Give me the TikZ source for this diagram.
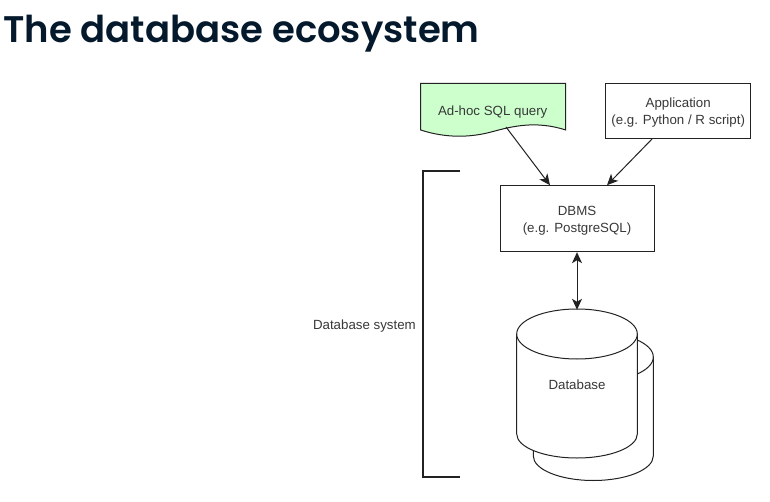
\documentclass[tikz,border=0pt]{standalone}
\usepackage{fontspec}
\setmainfont{Liberation Sans}
\newfontfamily\titlefont{Poppins SemiBold}
\usetikzlibrary{arrows.meta}
\definecolor{titleink}{HTML}{05192D}
\definecolor{queryfill}{HTML}{CCFFCC}
\definecolor{lineink}{HTML}{222222}

\begin{document}
\begin{tikzpicture}[
    x=1pt, y=-1pt,
    box/.style={draw=lineink, fill=white, line width=1pt, align=center, inner sep=0pt,
        text height=31pt, font=\fontsize{13.3}{17}\selectfont, text=lineink!90},
    plain/.style={inner sep=0pt, align=center, font=\fontsize{13.3}{17}\selectfont, text=lineink!90},
    link/.style={draw=lineink, line width=1pt, -{Stealth[length=11pt,width=10pt,inset=3pt]}},
    twoway/.style={draw=lineink, line width=1pt, {Stealth[length=11pt,width=10pt,inset=3pt]}-{Stealth[length=11pt,width=10pt,inset=3pt]}},
    cyl/.style={draw=lineink, fill=white, line width=1pt}
]
    \useasboundingbox (0,0) rectangle (770,502);
    \fill[white] (0,0) rectangle (770,502);
    \node[anchor=base west, inner sep=0pt, text=titleink, font=\titlefont\fontsize{37}{40}\selectfont] (title) at (3,43) {The database ecosystem};

    % wavy sheet for the query
    \draw[draw=lineink, fill=queryfill, line width=1pt] (420.7,83.3) -- (565.7,83.3) -- (565.7,130)
        .. controls (535,120) and (510,127) .. (493,131.5)
        .. controls (470,138) and (445,138) .. (420.7,130) -- cycle;
    \node[plain, minimum width=145pt, minimum height=46pt] (query) at (492.7,112) {Ad-hoc SQL query};
    \coordinate (querytail) at (506,127);

    \node[box, minimum width=145pt, minimum height=55pt] (app) at (678.2,110.8) {Application\\(e.g. Python / R script)};
    \node[box, minimum width=154pt, minimum height=66pt] (dbms) at (577,218.7) {DBMS\\(e.g. PostgreSQL)};

    % back cylinder, then front one
    \draw[cyl] (533.3,357) -- (533.3,456) arc[start angle=180, end angle=0, x radius=60, y radius=24.5]
        -- (653.3,357);
    \draw[cyl] (593.3,357) ellipse[x radius=60, y radius=25];
    \draw[cyl] (516.7,334) -- (516.7,434) arc[start angle=180, end angle=0, x radius=60.3, y radius=24]
        -- (637.3,334);
    \draw[cyl] (577,334) ellipse[x radius=60.3, y radius=25];
    \node[plain, minimum width=120pt, minimum height=149pt] (db) at (577,384.5) {Database};

    \draw[link] (querytail) -- ([xshift=-27pt]dbms.north);
    \draw[link] ([xshift=-26pt]app.south) -- ([xshift=30pt]dbms.north);
    \draw[twoway] (dbms.south) -- (db.north);

    % bracket
    \coordinate (bracktop) at (460,170.7);
    \coordinate (brackbot) at (460,476.7);
    \draw[draw=lineink, line width=2pt] (bracktop) -- (422.7,170.7) -- (422.7,476.7) -- (brackbot);
    \node[plain, anchor=east] (system) at (416,326) {Database system};
\end{tikzpicture}
\end{document}
